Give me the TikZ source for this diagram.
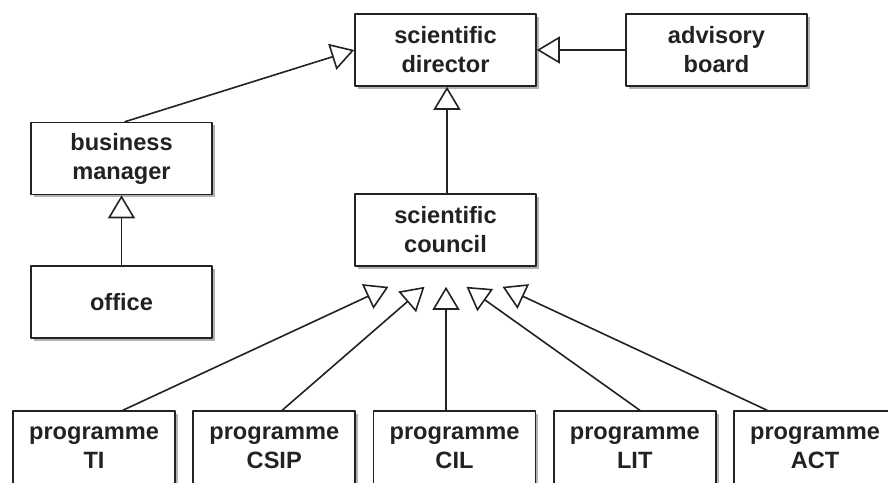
\documentclass[tikz,border=0pt]{standalone}
\usepackage{fontspec}
\setmainfont{Liberation Sans}
\usepackage{xcolor}
\usepackage{tikz}
\usetikzlibrary{arrows.meta,calc,shadows}
\definecolor{ink}{HTML}{222222}
\tikzset{
  orgbox/.style={
    draw=ink, line width=0.8pt, fill=white, text=ink,
    align=center, inner sep=2pt,
    minimum width=90.5pt, minimum height=36pt,
    font=\fontsize{11.8pt}{14.5pt}\selectfont\bfseries,
    drop shadow={shadow xshift=1.4pt, shadow yshift=-1.4pt, opacity=0.3, fill=black}
  },
  progbox/.style={orgbox, minimum width=81pt, minimum height=37pt},
  reportsto/.style={
    draw=ink, line width=0.8pt,
    -{Triangle[open, length=11.5pt, width=13.5pt, fill=white]}
  }
}

\begin{document}
\begin{tikzpicture}[x=0.5pt, y=-0.5pt, line cap=round, line join=round]
  \useasboundingbox (0,0) rectangle (888,482);

  % top row
  \node[orgbox] (director) at (445.5,50) {scientific\\director};
  \node[orgbox] (advisory) at (716.5,50) {advisory\\board};

  % left branch
  \node[orgbox] (manager) at (121.5,158.5) {business\\manager};
  \node[orgbox] (office) at (121.5,302) {office};

  % council
  \node[orgbox] (council) at (445.5,230) {scientific\\council};

  % programmes
  \foreach \prog/\abbr [count=\i from 0] in {ti/TI, csip/CSIP, cil/CIL, lit/LIT, act/ACT}
    \node[progbox] (\prog) at (94+180.25*\i,448) {programme\\\abbr};

  \draw[reportsto] (advisory.west) -- (director.east);
  \draw[reportsto] ($(manager.north)+(3.5,0)$) -- (director.west);
  \draw[reportsto] (office.north) -- (manager.south);
  \draw[reportsto] ($(council.north)+(1.5,0)$) -- ($(director.south)+(1.5,0)$);

  % programmes report to the council
  \foreach \prog/\dx/\tx in {ti/29/-57, csip/8/-21, cil/-8.5/0.5, lit/5/21, act/-48/57}
    \draw[reportsto] ($(\prog.north)+(\dx,0)$) -- ($(council.south)+(\tx,20)$);
\end{tikzpicture}
\end{document}
